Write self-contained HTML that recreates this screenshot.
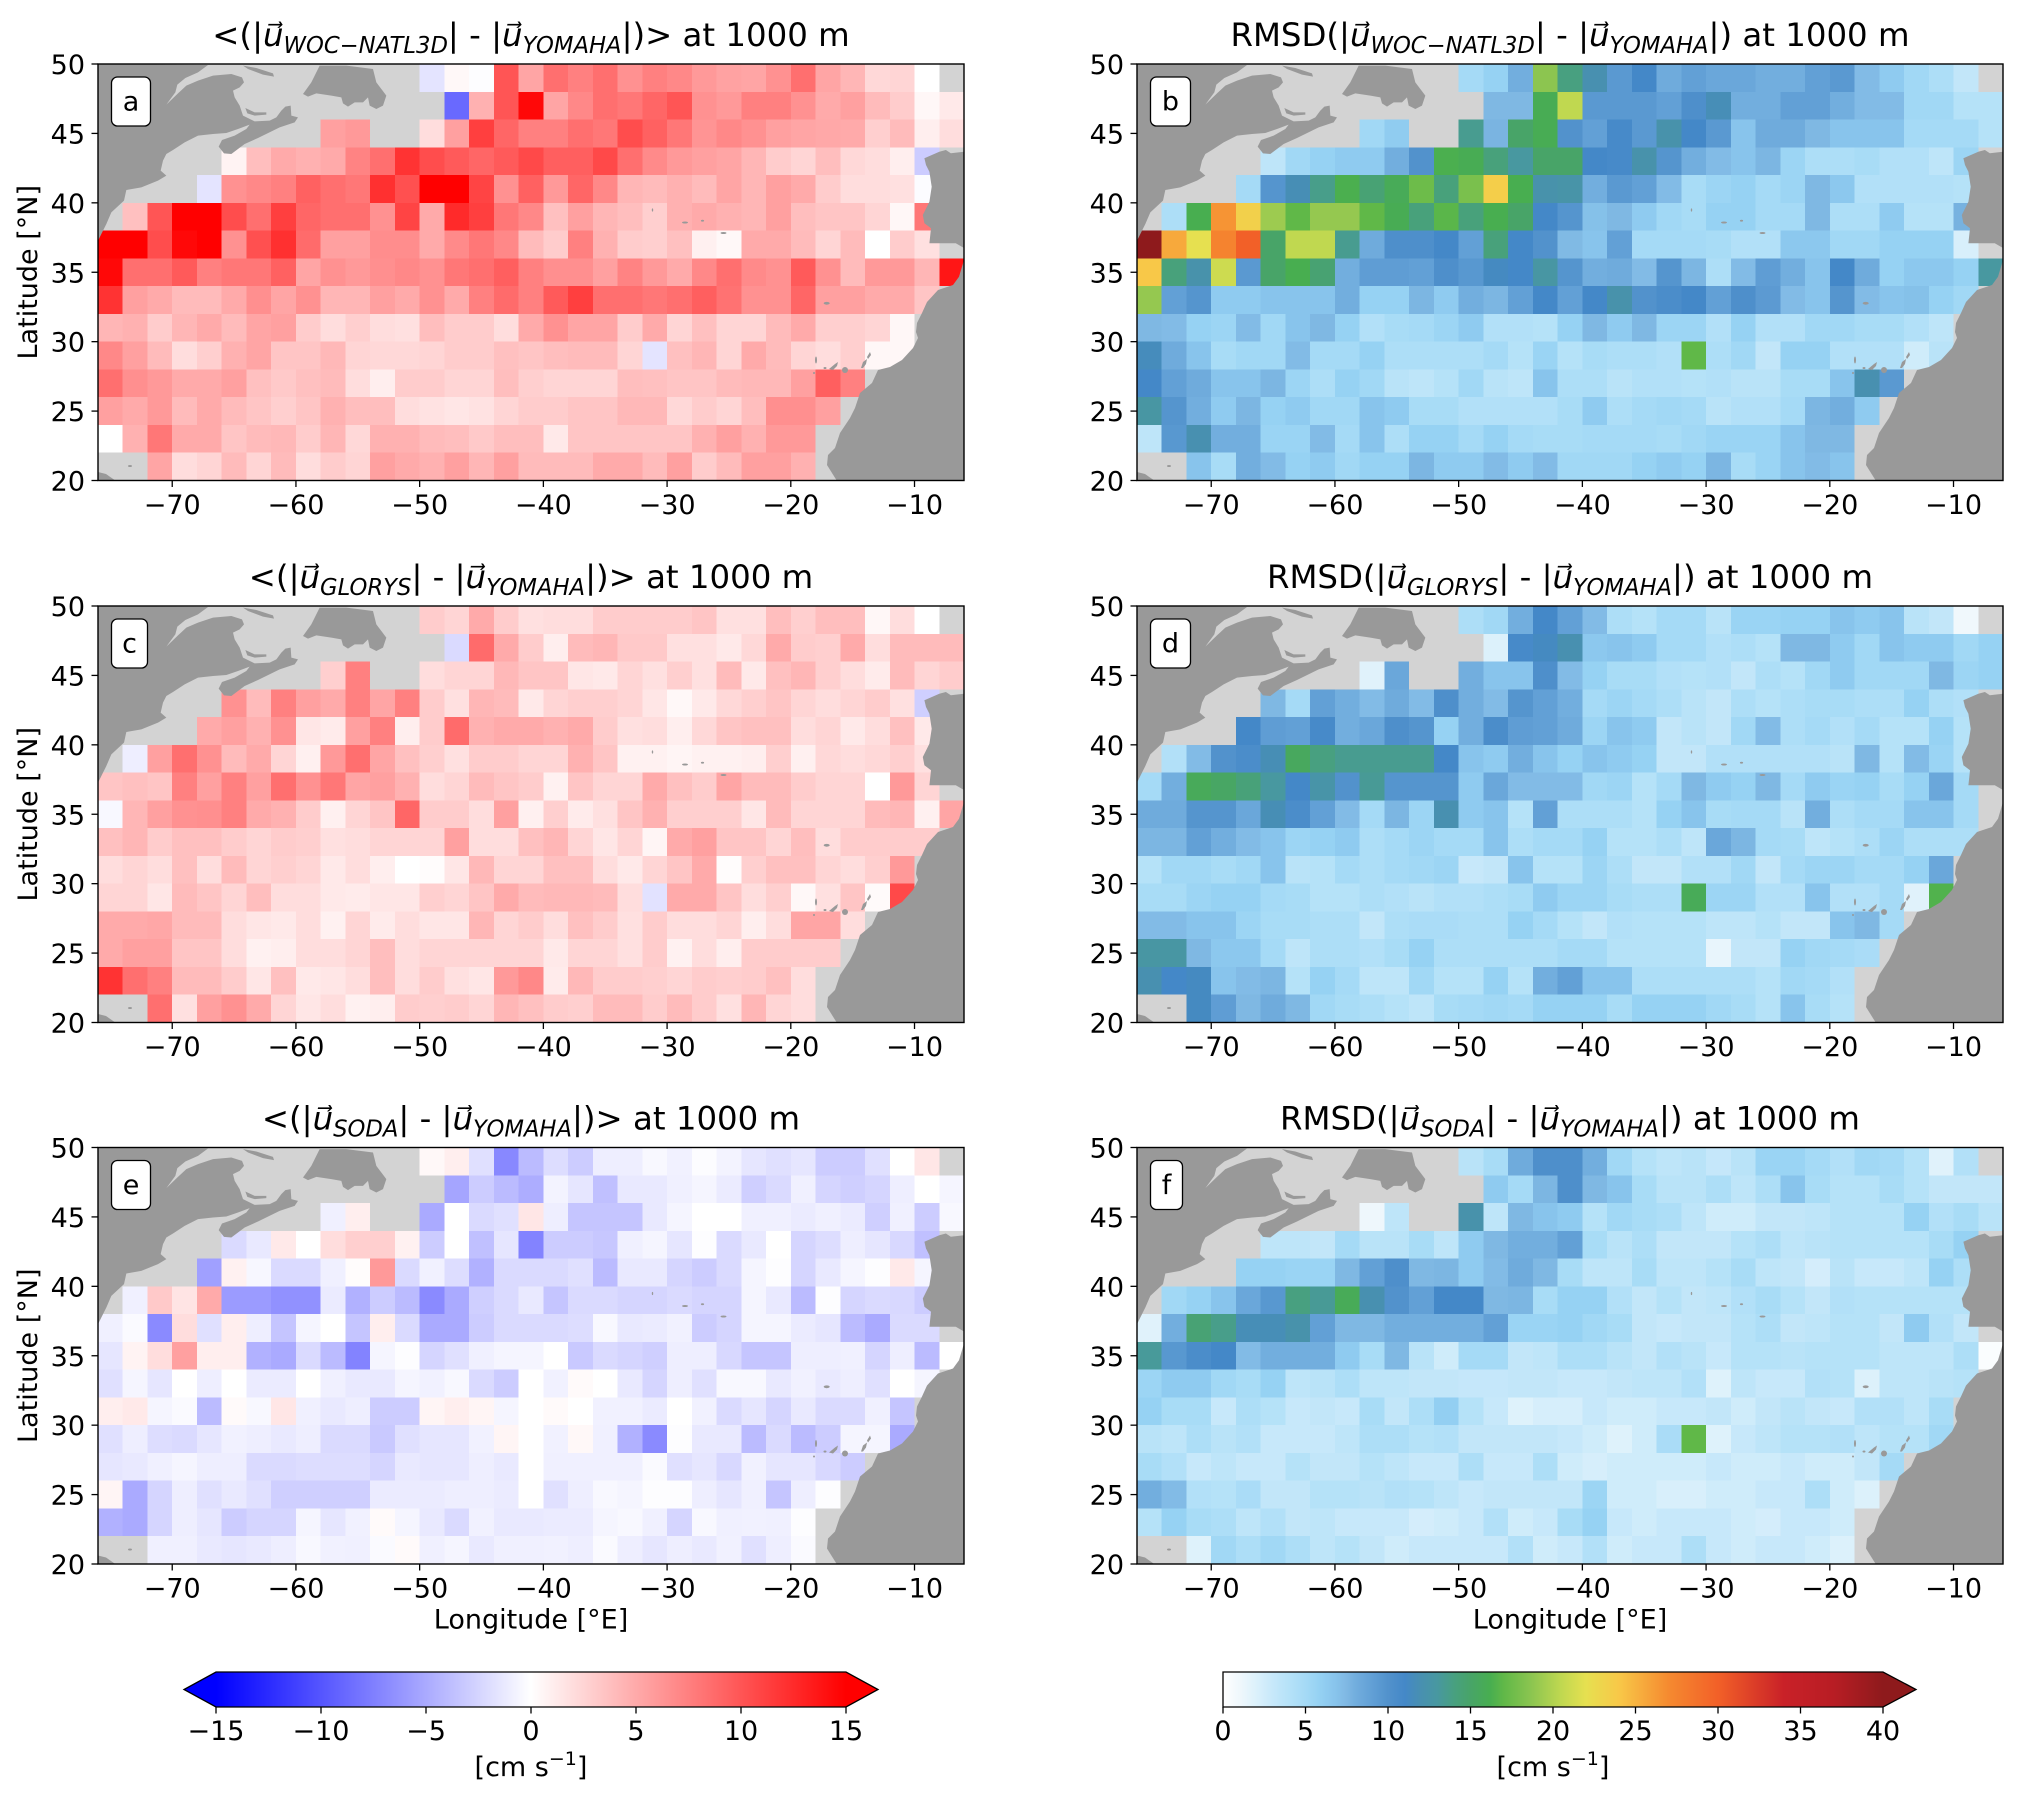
<!DOCTYPE html>
<html lang="en">
<head>
<meta charset="utf-8">
<title>Mean difference and RMSD of speed at 1000 m</title>
<style>
html,body{margin:0;padding:0;background:#fff;width:2021px;height:1799px;overflow:hidden}
svg{display:block}
text{font-family:"DejaVu Sans","Liberation Sans",sans-serif;fill:#000}
</style>
</head>
<body>
<svg id="figure" xmlns="http://www.w3.org/2000/svg" width="2021" height="1799" viewBox="0 0 2021 1799">
<defs>
<g id="land-shapes">
<g transform="scale(0.33333)" fill="#999">
<path d="M0,0L330,3L300,25L262,42L238,62L232,85L205,122L240,88L265,65L300,50L345,35L400,30L432,40L438,55L425,70L405,80L410,100L425,125L435,155L470,172L515,170L535,160L550,140L562,128L578,125L580,155L600,160L590,175L545,190L480,222L440,240L400,270L378,268L362,248L372,228L410,215L445,195L455,182L420,195L385,207L345,210L300,215L260,235L225,258L205,270L195,290L188,320L205,335L180,350L130,370L85,378L78,410L40,445L25,480L5,520L0,530Z"/>
<path d="M442,132L470,145L505,145L505,152L470,155L448,148Z"/>
<path d="M435,5L475,12L525,28L528,38L495,32L450,15Z"/>
<path d="M615,90L640,55L665,5L745,5L825,15L835,55L865,95L855,125L835,135L815,125L810,100L795,115L770,115L750,128L735,118L730,100L700,95L655,88L630,98Z"/>
</g>
<path fill="#999" d="M841.3,87.7L847.9,86L852.8,89.3L866,87.7L866,184L857.8,179.3L842.9,179.3L831.4,179.3L833,164.3L826.4,159.3L824.8,151L831.4,137.7L833.7,122.7L831.4,107.7L828,101L826.4,94.3Z"/>
<path fill="#999" d="M866,196L861,212.7L855,221L840,226L829,238L824,249L819,259L818,268L820,274L815,284L804,296L792,303L780,306L774,319L762,329L757,344L752,354L742,369L737,384L730,391L729,401L739,417L866,417Z"/>
<path fill="#999" d="M0,408L8,410L18,417L0,417Z"/>
<ellipse fill="#999" cx="32" cy="402" rx="2" ry="1"/>
<ellipse fill="#999" cx="554.5" cy="146" rx="0.7" ry="1.6"/>
<ellipse fill="#999" cx="587" cy="158.5" rx="3" ry="1"/>
<ellipse fill="#999" cx="604.5" cy="156.7" rx="1.6" ry="0.9"/>
<ellipse fill="#999" cx="625.5" cy="169" rx="3" ry="1"/>
<ellipse fill="#999" cx="728.7" cy="239.3" rx="3" ry="1.4"/>
<ellipse fill="#999" cx="718" cy="296" rx="1" ry="3.5"/>
<path fill="#999" d="M731,305L737,300L740,298L739,302L735,306Z"/>
<ellipse fill="#999" cx="747" cy="306" rx="3" ry="3"/>
<ellipse fill="#999" cx="727" cy="304" rx="1.5" ry="1"/>
<path fill="#999" d="M763,304L765,298L769,295L768,300L765,304Z"/>
<path fill="#999" d="M769,293L772,288L773,291L770,295Z"/>
<ellipse fill="#999" cx="716" cy="309" rx="1" ry="1"/>
</g>
</defs>
<rect width="2021" height="1799" fill="#fff"/>
</svg>
<script>
const _ = null;
const cellLons = [-76,-74,-72,-70,-68,-66,-64,-62,-60,-58,-56,-54,-52,-50,-48,-46,-44,-42,-40,-38,-36,-34,-32,-30,-28,-26,-24,-22,-20,-18,-16,-14,-12,-10,-8];
const cellLats = [48,46,44,42,40,38,36,34,32,30,28,26,24,22,20];
const xTickValues = [-70,-60,-50,-40,-30,-20,-10];
const xTickLabels = ['−70','−60','−50','−40','−30','−20','−10'];
const yTickValues = [20,25,30,35,40,45,50];
const yTickLabels = ['20','25','30','35','40','45','50'];
const diffBarTicks = [-15,-10,-5,0,5,10,15];
const diffBarLabels = ['−15','−10','−5','0','5','10','15'];
const rmsdBarTicks = [0,5,10,15,20,25,30,35,40];
const rmsdBarLabels = ['0','5','10','15','20','25','30','35','40'];
const rmsdStopValues = [0,1.1,2,3,4,5,5.8,6.8,7.5,8,9,10,11,12,13,14,15,16.2,17,18.7,20.5,22,24,27,30,34,37,40];
const rmsdStopColors = ['#ffffff','#eef7fc','#dcf1fb','#c7e8fa','#b5e2f8','#a5daf6','#96d2f3','#88c4ec','#7fb8e3','#72aede','#62a0d6','#5292cc','#4488c8','#4890b0','#4898a0','#48a080','#48a468','#48ae50','#60b848','#8cc550','#c0d850','#e6e050','#f8c848','#f58a30','#f26028','#c92128','#b81d24','#8e1a1c'];

const panelA = [
[_,_,_,_,_,_,_,_,_,_,_,_,_,-1.6,.4,-.1,10,5.3,8.5,7.5,8.5,6.5,7.5,7,6,5.5,5.3,6.5,8.5,5.3,4.3,2.3,2.5,0],
[_,_,_,_,_,_,_,_,_,_,_,_,_,_,-8.8,4.6,10,14.5,5.3,7,8.5,8,9,10,6.5,6,7.5,7.5,6.5,5,5.6,4,3,.5,1.3],
[_,_,_,_,_,_,_,_,_,5.6,6,_,_,2,5.6,11.3,9,7.5,7.5,8.5,8,10.5,9.3,8,6.3,7,6.5,5.6,5.3,5.1,5,2.8,4,1,2],
[_,_,_,_,_,.7,3.8,5,4.6,5,7.3,8.5,12,10.5,9.7,9,9.7,10.7,9.4,9.4,10.7,8.5,6.9,6,5.6,5.3,4.3,3,2.5,3.8,2.3,2,1,-3],
[_,_,_,_,-1.6,6.5,7,7.5,9.3,8.5,8,12.2,10.3,15,15,11,6.5,9.3,6,9,7,4.3,4,4.6,4,5.3,4.3,5.6,5,3,2,2,1.8,-.2],
[_,3.7,10,15,15,10.5,8.5,11.3,9,8.5,8.5,6.5,11,5,12.5,11.3,8,7,3.7,5.6,4.3,3.8,2.8,4.6,5,4.6,4.3,5.6,3.8,3.4,3.4,2.5,.5,8],
[15,15,10.5,14.5,15,6.5,10.3,12.2,8.7,5.6,5.6,6.7,6.7,5,6.9,8,7,4,3,7.5,4.6,3,2.8,3.7,.9,.4,5,5,4,2.5,4,0,3,1.8],
[14.5,8.5,8.5,9.7,7.5,8,8,9.3,5.3,6.5,6,6.6,7,6.5,8,8.5,9.4,7.5,6.6,6.6,5.6,7.3,6,5,7,8.5,6.9,6.5,9.7,6.5,4,6,6,4.3,13.7],
[12,5.6,5,4,4,5,6.6,5.3,6.5,4.3,4.3,5.6,5,6.5,5,7.5,8.7,7.5,9.7,11.3,8.5,8.5,8,8.5,9.4,8.3,6.5,6.5,9,5.6,5.6,5,5,3.4],
[4.3,4.6,3,4.3,5,4,5.3,5.6,3,2,2.8,2,1.8,3.8,3,3,2,5,6.5,5.3,5.3,3,5,2.5,3.7,2.5,2.5,4,5,2.8,2.8,2.5,.5],
[7,5.6,4,2,2.8,4.6,5.3,3.4,3.4,4.2,2.5,2.3,2.3,2.5,3,3,3.7,3.4,3.8,4,4,2.5,-1.6,3.7,4.3,2.5,5,4,2.5,2,2.8,.5,.5],
[8.5,6.6,6,5,5,5.6,3.7,3.2,3.7,4,2,1,3,3,2.5,2.5,3.8,2.8,2.5,2.5,2.5,3.8,3.7,3.4,3.4,4,4.2,4.2,5.6,9.4,7.5],
[5.6,5,6,4,5,4,3.4,2.8,3.4,4.6,3.8,3.8,2,1.7,1.5,1.7,2.5,3,3,3.4,3.4,4.2,4.2,2.3,3,2.5,3.8,6.6,6.6,5.6],
[0,4.6,8,5,5,3.4,4,4.2,3,4.3,2.3,4.6,4.6,4,3.8,3.2,3.8,3.8,1.3,3.4,3.4,3.4,3.4,3.4,4.6,5.6,4.6,6,6],
[_,_,5.3,2,2.5,4,2.5,4,2,3,2.5,5.6,5,4.6,5.6,4.3,5.6,4,4,4,5,5,4,5.6,3,4,5.6,5.6,4.6]
];
const panelB = [
[_,_,_,_,_,_,_,_,_,_,_,_,_,5,5.8,8,18.7,14,12,9.5,11,8.2,9,8.5,8.5,8,8,9,9.5,7.3,6.3,5.2,4.5,3.3],
[_,_,_,_,_,_,_,_,_,_,_,_,_,_,7.5,7.5,16,20.5,9.5,9.5,9.5,9,10.3,11.7,8,8,9,9,8,7.3,7.3,5.2,5.2,4,4],
[_,_,_,_,_,_,_,_,_,5.2,6.2,_,_,13.5,7.7,15,16,10,9,10.8,9.5,12.3,11,9.5,6.8,8.2,8.2,7.5,6.8,6.8,6.8,5,5,5,4],
[_,_,_,_,_,3.5,5.2,5.8,6.3,6.3,8,10,16.3,16,14.2,13,15,15,11,10.8,12.3,9.8,8,7.3,6.8,7.6,5.5,4.5,4.5,4.8,4.2,4.2,3.5,5.5],
[_,_,_,_,5,9.8,11.8,13.7,16.3,14.5,15.8,17.5,14.2,18,23.5,16.2,12.3,12.5,8,9.5,9,7.3,4.8,5.5,5.8,5,5.5,7.5,6.5,4.2,4.2,4.2,4.2,4],
[_,4.5,16.2,26.5,23.3,19.3,17,19,19,17,16,14.2,16.8,14.2,16.2,15,11,9.8,7,7.5,6.3,5.2,4.8,5.8,5.8,5,5,7.5,4.5,4.5,6.3,4,4,7.8],
[40,25.5,22,27.5,30,15,20.5,20.5,13.5,8.2,10.3,10.3,11,9,14.2,11,10,7.4,6.8,9,5,5,5,4.8,4.2,4.2,6.5,6.5,5.2,5.2,5.8,5.8,5.8,2.2],
[24,14.2,12.3,21,9.5,15,16.2,14.6,8,9.2,9.2,9,10.3,9.6,11.3,11,12.8,9.8,8,8.2,7.3,9.8,7.6,4.5,7.3,9.2,8,6.8,11,8.2,5.8,6.5,6.5,5.8,13],
[19,9,9.8,6.3,6.3,6.8,6.8,6.8,8,5.8,5.8,7.6,6.3,8,7.6,9,11,9,11,12.3,10,10.5,11,9,10.3,9.4,7.3,6.8,9.8,7.3,6.8,7,5.8,5.2],
[7.5,7.3,5.8,5.5,7.3,5.2,6.8,7.5,5.8,4.2,4.8,5,5.5,6.3,4.2,4.2,4,5.8,7.5,6.3,7.5,5.5,5.5,4.2,5.8,4.2,4.2,5.2,5.2,4.8,4.8,4.2,3.5],
[11.5,8.2,6.8,4.8,5.2,5.2,7.3,5,5,5.8,4.5,4.5,4.5,4.5,5,4,5.6,4,4.8,4.5,4.5,4.2,17,4.5,5.2,3.3,5.8,5.8,4.2,4.2,4.2,2.6,3.8],
[11,9,8.2,6.8,6.8,7.6,5.5,4.5,5.8,5.2,3.8,3.5,4,5.2,3.8,3.5,6.8,4.5,4.5,3.8,4.2,4.2,4,4.2,3.8,3.8,4.8,4.8,6.8,12,9.5],
[12.8,9.8,8,6.3,7.6,5.8,6.3,5.2,5.2,6.8,6.3,4.8,4.8,4.2,4.2,4.2,4.2,4.8,6.3,4.5,5,5.2,5,3.8,4.2,4.2,5,7.6,8,6.3],
[3.5,9.6,12,8,8,5.6,5.6,7.3,5,6.8,4.5,5.8,5.8,5,5.8,5,4.8,4.8,5,5,5,4.8,5.2,5.6,5.6,5.6,6.8,7.5,7.5],
[_,_,6.8,4.8,8,7.3,5.8,6.3,5.2,5.8,5.8,7.6,6.3,6.3,7.3,6.3,7.3,5.2,5.2,5.2,5.8,6.3,5.8,7.6,4.8,5.6,6.8,7.3,6.8]
];
const panelC = [
[_,_,_,_,_,_,_,_,_,_,_,_,_,3,2.5,5,3,1.8,2,2,3,3,3,3,3.4,1.8,1.8,3.8,2.8,3.8,3.8,.5,2,0],
[_,_,_,_,_,_,_,_,_,_,_,_,_,_,-2.2,8.7,5,3,1,4,4.3,3.2,3.2,1.8,1.8,1.3,2.3,5,3,2.8,5,2,4,4,4],
[_,_,_,_,_,_,_,_,_,2.8,7.5,_,_,2,2.5,2.5,4.2,3.4,3.4,1.5,1.3,2.5,1.8,2.8,1.8,4,1.3,3.7,4.3,2.8,2,1.2,4,2.5,3],
[_,_,_,_,_,6.5,4,7.5,5.6,5,7.5,5.3,7.5,3,1.8,4.3,4,1.3,2.5,2.8,2.8,2.5,1.5,.4,1.3,2.3,2.8,3.4,2.5,2,2.5,3,1.8,-2.8],
[_,_,_,_,5,5.6,4.6,6.5,1.5,1.2,5.6,7.5,1,3,8.7,4.6,5,5,4.6,5,3,1.8,2,1,2.3,3.4,3.7,3.7,2,2.5,1.3,2,3.7,1.3],
[_,-1,5.6,8.5,6.5,4,5,2.5,.9,6,8.5,5.3,3.7,2.8,1.8,3,3,2.5,2.5,4.6,3.4,.8,.8,.6,.8,.8,1,2.8,.9,2.3,2,2.3,2.8,1.8],
[3.4,3.7,3.4,7.5,5.6,7.5,5.6,8.5,6.5,8,5.3,5.6,4.6,2,2.5,4,3.4,3,.8,3.4,2.5,2.5,5,3.7,3,5.3,4,4,3,2.5,2.5,0,6,2.5],
[-.4,4.3,5.6,6.5,6.6,7.5,5,4.6,3,.9,2.5,3.4,9,3,3,2,5.6,.9,2.8,1.2,1.8,3.4,4.6,2.8,2.8,2.8,1.5,4,2.5,2.5,2.5,4,4.3,.9,5.3],
[3.7,4.3,3,3.7,3.7,3,2.5,3,2.8,1.8,2,2.5,2.5,2.5,5.6,2,2,3.7,4.3,2.5,1.5,2.5,.6,5,5.6,3.4,3.4,2.5,3.8,2,3,3,3,3],
[2,2.5,2,3.7,2,4,2.5,2.8,2.5,1.3,2,1,0,.2,1.5,4.2,2.5,2.5,3.7,3.7,2,1.3,2.5,3.4,5,.2,2.8,3.7,3.7,2.5,2,2.8,6],
[2.5,2.5,1.5,4,3.4,2.5,3.8,2,2,1.3,1.2,1.5,1.5,2.8,2.5,3.4,5,4,4.2,4.2,4,2,-1.7,5,5,3.4,2,2.8,.4,1.8,3.4,.3,10.7],
[5,5,5.2,4,4,2,1.5,1.3,2,.8,2.5,1.2,2,1.5,1.5,4.3,2.5,3,2,3.7,3,1.8,3,2,2,2.5,1,2,5.3,5.3,2],
[5,5.6,5.6,3.4,3.4,2,.8,1,2,2,2.5,3.8,2,2.5,2.5,2.5,2.5,2.5,1.3,2.5,2.5,1.8,3,.8,2,1,3,3,3,3],
[12,8.5,7.5,4,4,3,1.5,3.7,1.3,1.5,2,3.8,2,3,1.8,1.5,6,7,1.2,4.2,3,3,2.8,2.5,3,2.8,3,3.7,2],
[_,_,8.5,1.8,5.6,6.5,5,2.5,1.5,2,.8,1,3,2.8,3,2.5,4.3,3.7,3,2.8,4,4,3,4,3,1.8,4.3,2.5,2]
];
const panelD = [
[_,_,_,_,_,_,_,_,_,_,_,_,_,4.5,5.2,8,11,9,7.3,4.5,4,5,5,3.8,5.6,5.6,5.8,5.8,6.8,6.3,6.8,3.8,3.3,1],
[_,_,_,_,_,_,_,_,_,_,_,_,_,_,2,10.8,11.3,12,6.5,6.8,6.3,5,5,4.2,4.5,4,7.5,7.5,6.3,5.2,6.8,6.3,6.3,5.2,5.8],
[_,_,_,_,_,_,_,_,_,1.8,8.5,_,_,8,6.8,6.8,10.3,7.3,5.8,4.8,4.8,4.2,4,4.2,3.3,4.5,4,5.2,6.3,5.2,5.2,5.2,7.5,5.5,5.8],
[_,_,_,_,_,7.5,5,9,8,7.3,8.2,7.3,10.3,8,7.3,9.8,9,8,5,5.5,5,4.5,3.8,3.3,4.5,4,4.5,4.8,4.8,4.5,4.5,5.8,4.5,4.2],
[_,_,_,_,11,9.2,9,10.8,8,8.5,10.3,9.8,5.8,8,10.5,9.2,9,8.2,5.5,6.8,6.3,3.3,3.8,3.3,5.2,7.3,4.5,5,4.2,5,4,4,5.8,4],
[_,4.2,7.3,10,10.5,11.8,15.5,14,13.5,13.5,13.5,13.5,11,6.8,6.3,8,6.8,5.8,6.8,6.3,5.8,3.3,3.3,4.2,4.2,4.2,4.2,4.2,3.8,7.5,4,7.3,5.6,4],
[5,8,15.7,15.2,14.3,13,11,12.5,10,13.3,9.8,9.8,9.8,6.3,8.5,7.3,7.3,7.3,5.2,5.5,4,5,7.5,6.3,5.8,7.5,5,6.3,5.6,5.8,4.8,5.8,8.5,5],
[8.2,8.2,9.8,9.8,8.5,11.8,10.5,9,7.3,5,7.6,5.5,12,6.3,6.8,4,9,4.5,4.5,4.5,4,5.8,6.8,4.8,5,5,3.8,8,4.5,5,5,6.8,6.8,5],
[7.6,7.6,9,8,7.3,6.8,5.5,5.8,6.3,4.5,5,5.5,5,5,6.8,4.5,5,5,5.8,4,4,4.5,3.5,8.5,7.6,5,4.8,3.5,4,4.5,5.5,4.5,4.5,4.5],
[4,5.2,5.2,4.8,5.2,6.8,3.8,4,5,4.5,5,5.2,5.5,3,3.3,6.8,4,4,5.5,4.5,3.3,3.3,4.2,4.2,5.2,3.3,5,5.5,5.5,5,5,5.8,8.5],
[4.8,4.8,5.5,5.8,5.8,5,4.8,4,4,4.5,4.2,3.8,4.2,4.2,4.5,4.8,6.3,5.5,5.5,4.8,4.5,4.5,15.8,5.5,5.5,4.2,4.2,6.8,4.2,4.2,5,1.8,16.5],
[7.3,7.3,6.8,6.8,5.5,4.8,4.8,4.5,4.5,3.3,4.5,4.7,4.7,4.5,4.5,5.8,5,4,3.3,4.2,4,4,4,3.5,3.5,4,3.3,3.3,6.8,7.5,5],
[12.8,12.8,7.5,6.5,6.5,5,3.5,4.5,4.5,4.2,4.8,5.8,4.5,4.5,4.5,4.5,4.5,5,5,4,4,4,4,1.4,3.3,3.3,5.8,5.2,5,4.7],
[12,11,11.3,6.8,7.3,7.6,4,5.8,5,3.5,3.5,5.2,4,4,5.8,4,8,9,6.8,6.8,4.5,4.5,4.5,4.5,4.5,4,5.2,5,4.2],
[_,_,11.3,9.2,7.5,8.2,7.5,5.2,4.8,4.5,4,3.5,4.8,5,5.2,5,5.8,5.8,5.8,4.8,5.8,5.8,5.8,5.2,4.8,4,6.8,4.8,4]
];
const panelE = [
[_,_,_,_,_,_,_,_,_,_,_,_,_,.4,1,-1.8,-7,-4,-2,-3,-1,-1,-.4,-.8,-.2,-.7,-1.5,-1.8,-1.5,-3,-3,-1.8,0,1.5],
[_,_,_,_,_,_,_,_,_,_,_,_,_,_,-5.3,-3,-4,-4.8,-.7,-1.5,-3.7,-1.3,-1.3,-.9,-.6,-1.2,-2.8,-2.2,-.9,-2.5,-2.8,-2.5,-1,0,-.6],
[_,_,_,_,_,_,_,_,_,-.9,1,_,_,-5,0,-2.2,-1.8,1.5,-1,-3.4,-3.4,-3.4,-1.3,-.6,0,0,-.9,-.9,-1.2,-.9,-1.2,-2.8,-.9,-3,-.4],
[_,_,_,_,_,-2.2,-1.3,1.3,0,2,2.8,2.8,.8,-3,0,-3.7,-1.5,-7.3,-3,-3,-3.3,-.9,-.6,-1.5,-.1,-2.2,-1.3,0,-2.5,-2,-1,-1.5,-2.3,-3.7],
[_,_,_,_,-5.6,.8,-.5,-2.2,-2.2,-.9,.2,6,-2.2,-.8,-2,-4.6,-2.2,-2.2,-2.2,-1.8,-4,-1.3,-1.3,-2.5,-3,-2.2,-.6,-.1,-2.5,-1.3,-.6,-.1,1.3,-.6],
[_,-.9,3.2,1.6,5,-5.9,-5.9,-6.5,-6.5,-1.2,-4.6,-3,-4,-6.9,-5,-2.8,-2.2,-1.3,-3.4,-2.2,-2.2,-2.5,-2.5,-2.2,-2.5,-2.5,-.6,-1.3,-4,-.1,-2.5,-2.2,-2.3,-3],
[-.9,-.3,-6.9,2,-1.8,1,-1,-3.4,-.6,0,-3.4,1,-2.2,-5,-5,-3,-2.2,-2.2,-2.2,-2,-.4,-1.3,-1.2,-.8,-3,-2.5,-.6,-.6,-1.2,-1.5,-4,-5,-2.2,-2.2],
[-1.5,.7,2,5.6,1,1,-4.6,-5,-2.2,-4,-7.3,-.6,-.1,-2.5,-1.8,-.9,-.6,-.6,0,-3.2,-2.2,-2.5,-2.8,-1,-1,-2.3,-3.4,-3.4,-1,-1,-.9,-2.5,-1,-4,0],
[-1.8,-.6,-1.5,0,-1,0,-1.2,-1.2,0,-.9,-1.3,-1.3,-.6,-.8,-.4,-2.2,-3,0,-.8,.3,0,-1.3,-2.5,-1,-1.8,-.4,-.4,-1.3,-.8,-1.3,-1,-1.8,0,-.6],
[1,1.3,-.6,-.3,-4,.3,-.4,1.5,-.9,-1.3,-1,-3,-3,.6,1,.6,-.6,0,.3,0,-.8,-.8,-1.2,0,-.8,-2.2,-1.5,-2.5,-1.3,-2.2,-2.2,-.9,-3.4],
[-1.8,-1,-2,-2.2,-1.5,-.8,-1,-1.3,-1,-2.2,-2.2,-3.2,-1.8,-1.5,-1.5,-.8,.6,0,-.8,.4,-.9,-4.6,-6.9,-.1,-1.3,-1.3,-4,-2.2,-4,-3,-.6,-.6,-5],
[-1.5,-1.3,-.9,-.6,-1,-1,-2.2,-2.2,-2,-2,-2,-2.5,-1.3,-1.5,-1.5,-1,-1.3,0,-.9,-.9,-.9,-.9,-.3,-1.8,-1.5,-2.3,-.8,-1.5,-1.5,-2.3,-3],
[.6,-5,-2.5,-1,-1.8,-1.3,-1.8,-2.8,-2.8,-2.8,-2.8,-1.2,-1.2,-1.2,-1,-1,-1.2,0,-1.8,-1,-.4,-.6,-.1,-.1,-1,-1.5,-.9,-3.4,-1,-.1],
[-4.6,-5,-2.5,-1,-1.5,-3,-2.5,-2.5,-.6,-1.5,-.8,.3,-.6,-1.3,-2.2,-.8,-1.3,-1.3,-1.2,-1.2,-.6,-.4,-.9,-2.5,-.4,-.9,-.8,-.9,-.1],
[_,_,-.9,-.9,-1.3,-1.5,-1.3,-1,-.4,-.8,-.9,-.3,.3,-.9,-.6,-1.3,-.9,-.9,-.8,-1,-.3,-1,-1.5,-1,-1.3,-.8,-1.8,-1,-.3]
];
const panelF = [
[_,_,_,_,_,_,_,_,_,_,_,_,_,3.8,4.8,8.2,10.3,10.3,8,5.2,4,3.5,3.8,3.1,3.8,5.6,5.6,5,4.2,5.2,5,4,1.8,4.2],
[_,_,_,_,_,_,_,_,_,_,_,_,_,_,6.3,5,7.6,10.3,7.5,6.8,4.8,3.8,3.8,4.5,3.5,4.5,6.8,4.8,4,4,4.8,4,3.3,3.3,3.3],
[_,_,_,_,_,_,_,_,_,1.1,3.5,_,_,12.3,3.5,7.5,6.8,6.3,4,5.2,4.8,4.5,3.5,2.6,2.6,3.3,3.3,3.5,4,4,4,5.8,4.2,4.8,3.8],
[_,_,_,_,_,3.5,3.5,3.3,5,3.8,3.8,4.8,3.5,6.3,7.5,8,8,9,4.8,3.8,4.5,3.3,3.3,3.3,4,4.5,3.5,3.8,4,4,4,4,4.8,5.8],
[_,_,_,_,5.8,5.8,5.6,5.6,7.5,9,10.3,7.5,7.6,6.3,7.3,8.2,7.5,4.8,3.5,3.5,4.8,3.5,3.5,4,4.8,3.5,3.3,2.4,3.8,3,3,3.5,5.8,4.5],
[_,5.2,5.8,6.8,8.5,9.6,14,13.3,15.8,12,10,9,11,11,7.5,7.6,4.8,5.8,5.8,4.2,3.3,4,3.3,3.5,4.2,4.8,4,3.3,4.2,4,4,4,4,4],
[1.8,8,14.5,13.7,11.7,11.7,12.3,9,7.5,7.5,8,8,8,8,9,5.6,5.6,5.8,5.2,4.8,3.3,3,3.3,3.3,4,4.5,3.3,3.5,4,4,3.3,6.3,4.2,3.3],
[13.2,9.6,10.5,11,7.3,8,8,8,6.3,4.8,7.5,3.8,2.6,5,5,3.3,3.5,4.5,4.5,3.8,3.3,4.2,3.8,3,4,4,3.8,4,4,4,3.5,3.5,3.5,4.5,.3],
[5.5,6.3,6.3,5.2,4.8,5.8,3.5,3.8,4.5,3.5,3.5,3.3,3.3,3.1,3.1,3.3,3.3,3,3,3.3,3.5,3.5,4.2,1.9,3.5,3,3,4.2,4,2,3.5,3.5,3.8,4],
[5.8,4.8,4.8,3,4.5,4,3,3.3,3,4.8,3.3,4.5,6,4,3,1.9,2.3,2.3,3,2.6,2.6,3,3,3.3,2.6,3.3,3.8,3.3,3,4.2,4.2,3.5,4.8],
[3.8,3.5,4.5,3.8,4.2,3,3,3,3.5,4.5,4.5,4,4.2,3.3,3.3,3.3,3.3,3,2.6,1.9,2.6,4.7,17,1.9,3,3.5,4,4,4.2,3.5,4,4,5.2],
[4.8,4.2,3,3.5,3,3,4,3.3,3.3,4,3.5,3,3,4.5,3,3,4.5,2.6,2.3,2.6,2.6,2.6,2.6,3,2.6,2.6,3,2.6,2.6,3.3,5],
[8,7.3,4.2,4,4.7,3.3,3.3,4,4,3.8,4.2,4,3.5,3,3.3,3.3,3.3,3.3,5.5,2.6,2.6,2.2,2.2,2.6,2.6,3,3,4.5,2.6,2],
[4,5.8,4.8,4.5,3.5,4.2,3.3,3.5,3,3,3,2.4,2.6,3,4.2,2.6,3,4.8,5.8,3,2.6,3,3,3,2.6,2.4,3,3,2.6],
[_,_,1.9,5.2,4.5,5.2,4.5,3.5,4,3.3,2.6,3,3,3,3,4.2,2.6,3,4.2,2.6,3,3,4.5,3,2.6,3,3,2.6,2]
];

const NS = 'http://www.w3.org/2000/svg';
const svg = document.getElementById('figure');
const PW = 866, PH = 416.5;
const LON_MIN = -76, LON_MAX = -6, LAT_MIN = 20, LAT_MAX = 50, CELL_DEG = 2;
const FONT_TICK = 27, FONT_TITLE = 32.4, FONT_SUB = 22.7;

function make(parent, tag, attrs, txt) {
  const el = document.createElementNS(NS, tag);
  for (const k in attrs) el.setAttribute(k, attrs[k]);
  if (txt !== undefined) el.textContent = txt;
  parent.appendChild(el);
  return el;
}
function xScale(lon) { return (lon - LON_MIN) / (LON_MAX - LON_MIN) * PW; }
function yScale(lat) { return (LAT_MAX - lat) / (LAT_MAX - LAT_MIN) * PH; }
function hex2(n) { return Math.round(n).toString(16).padStart(2, '0'); }
function diffColor(v) {
  const t = Math.max(-1, Math.min(1, v / 15));
  if (t < 0) { const c = 255 * (1 + t); return '#' + hex2(c) + hex2(c) + 'ff'; }
  const c = 255 * (1 - t);
  return '#ff' + hex2(c) + hex2(c);
}
function rmsdColor(v) {
  const s = rmsdStopValues, c = rmsdStopColors;
  if (v <= s[0]) return c[0];
  for (let i = 1; i < s.length; i++) {
    if (v <= s[i]) {
      const t = (v - s[i - 1]) / (s[i] - s[i - 1]);
      let out = '#';
      for (let p = 1; p < 7; p += 2) {
        const a = parseInt(c[i - 1].substr(p, 2), 16);
        const b = parseInt(c[i].substr(p, 2), 16);
        out += hex2(a + (b - a) * t);
      }
      return out;
    }
  }
  return c[c.length - 1];
}

function drawPanel(cfg) {
  const g = make(svg, 'g', { transform: 'translate(' + cfg.x + ',' + cfg.y + ')' });
  
  

  const bg = make(g, 'rect', { x: 0, y: 0, width: PW, height: PH, fill: '#d3d3d3' });
  
  

  const cells = make(g, 'g', { 'shape-rendering': 'crispEdges' });
  
  
  cfg.data.forEach(function (row, r) {
    row.forEach(function (v, c) {
      if (v === null || v === undefined) return;
      const x0 = xScale(cellLons[c]), x1 = xScale(cellLons[c] + CELL_DEG);
      const y0 = yScale(cellLats[r] + CELL_DEG), y1 = yScale(cellLats[r]);
      const cell = make(cells, 'rect', { x: x0.toFixed(2), y: y0.toFixed(2), width: (x1 - x0).toFixed(2), height: (y1 - y0).toFixed(2), fill: cfg.color(v) });
      
      
    });
  });

  const land = make(g, 'use', { href: '#land-shapes' });
  
  

  const spine = make(g, 'rect', { x: 0, y: 0, width: PW, height: PH, fill: 'none', stroke: '#000', 'stroke-width': 1.4 });
  
  

  xTickValues.forEach(function (v, i) {
    const x = xScale(v);
    const t = make(g, 'line', { x1: x, x2: x, y1: PH, y2: PH + 6.5, stroke: '#000', 'stroke-width': 1.3 });
    
    
    const l = make(g, 'text', { x: x, y: PH + 33.5, 'font-size': FONT_TICK, 'text-anchor': 'middle' }, xTickLabels[i]);
    
    
  });
  yTickValues.forEach(function (v, i) {
    const y = yScale(v);
    const t = make(g, 'line', { x1: -6.5, x2: 0, y1: y, y2: y, stroke: '#000', 'stroke-width': 1.3 });
    
    
    const l = make(g, 'text', { x: -13, y: y + 10, 'font-size': FONT_TICK, 'text-anchor': 'end' }, yTickLabels[i]);
    
    
  });

  const badge = make(g, 'rect', { x: 13.5, y: 13, width: cfg.boxW, height: 49, rx: 6, ry: 6, fill: '#fff', stroke: '#000', 'stroke-width': 1.3 });
  
  
  const letter = make(g, 'text', { x: 13.5 + cfg.boxW / 2, y: 46.5, 'font-size': FONT_TICK, 'text-anchor': 'middle' }, cfg.letter);
  
  

  const title = make(g, 'text', { x: PW / 2, y: -18, 'font-size': FONT_TITLE, 'text-anchor': 'middle' });
  
  
  make(title, 'tspan', {}, cfg.prefix + '|');
  make(title, 'tspan', { 'font-style': 'italic' }, 'u\u20D7');
  make(title, 'tspan', { 'font-style': 'italic', 'font-size': FONT_SUB, dy: 7 }, cfg.model);
  make(title, 'tspan', { dy: -7 }, '| - |');
  make(title, 'tspan', { 'font-style': 'italic' }, 'u\u20D7');
  make(title, 'tspan', { 'font-style': 'italic', 'font-size': FONT_SUB, dy: 7 }, 'YOMAHA');
  make(title, 'tspan', { dy: -7 }, cfg.suffix + ' at 1000 m');

  if (cfg.leftCol) {
    const yl = make(g, 'text', { transform: 'translate(-61,' + (PH / 2) + ') rotate(-90)', 'font-size': FONT_TICK, 'text-anchor': 'middle' }, 'Latitude [°N]');
    
    
  }
  if (cfg.bottomRow) {
    const xl = make(g, 'text', { x: PW / 2, y: PH + 64.5, 'font-size': FONT_TICK, 'text-anchor': 'middle' }, 'Longitude [°E]');
    
    
  }
}

const COL_L = 98, COL_R = 1137, ROW_1 = 64, ROW_2 = 606, ROW_3 = 1147.5;
drawPanel({ x: COL_L, y: ROW_1, letter: 'a', boxW: 39, data: panelA, color: diffColor, prefix: '<(', suffix: '|)>', model: 'WOC\u2212NATL3D', leftCol: true });
drawPanel({ x: COL_R, y: ROW_1, letter: 'b', boxW: 40, data: panelB, color: rmsdColor, prefix: 'RMSD(', suffix: '|)', model: 'WOC\u2212NATL3D' });
drawPanel({ x: COL_L, y: ROW_2, letter: 'c', boxW: 36, data: panelC, color: diffColor, prefix: '<(', suffix: '|)>', model: 'GLORYS', leftCol: true });
drawPanel({ x: COL_R, y: ROW_2, letter: 'd', boxW: 40, data: panelD, color: rmsdColor, prefix: 'RMSD(', suffix: '|)', model: 'GLORYS' });
drawPanel({ x: COL_L, y: ROW_3, letter: 'e', boxW: 39, data: panelE, color: diffColor, prefix: '<(', suffix: '|)>', model: 'SODA', leftCol: true, bottomRow: true });
drawPanel({ x: COL_R, y: ROW_3, letter: 'f', boxW: 32, data: panelF, color: rmsdColor, prefix: 'RMSD(', suffix: '|)', model: 'SODA', bottomRow: true });

function drawColorbar(cfg) {
  const g = make(svg, 'g', {});
  
  
  const top = 1672, bottom = 1707, mid = 1689.5;
  const scale = function (v) { return cfg.x0 + (v - cfg.vmin) / (cfg.vmax - cfg.vmin) * (cfg.x1 - cfg.x0); };
  const ramp = make(g, 'g', { 'shape-rendering': 'crispEdges' });
  
  
  for (let px = cfg.x0; px < cfg.x1; px += 1) {
    const v = cfg.vmin + (px + 0.5 - cfg.x0) / (cfg.x1 - cfg.x0) * (cfg.vmax - cfg.vmin);
    const seg = make(ramp, 'rect', { x: px, y: top, width: 1.2, height: bottom - top, fill: cfg.color(v) });
    
    
  }
  let outline = '';
  if (cfg.tipL) {
    const low = make(g, 'polygon', { points: cfg.x0 + ',' + top + ' ' + cfg.tipL + ',' + mid + ' ' + cfg.x0 + ',' + bottom, fill: cfg.color(cfg.vmin) });
    
    
    outline = 'M' + cfg.x0 + ',' + top + 'L' + cfg.x1 + ',' + top + 'L' + cfg.tipR + ',' + mid + 'L' + cfg.x1 + ',' + bottom + 'L' + cfg.x0 + ',' + bottom + 'L' + cfg.tipL + ',' + mid + 'Z';
  } else {
    outline = 'M' + cfg.x0 + ',' + top + 'L' + cfg.x1 + ',' + top + 'L' + cfg.tipR + ',' + mid + 'L' + cfg.x1 + ',' + bottom + 'L' + cfg.x0 + ',' + bottom + 'Z';
  }
  const high = make(g, 'polygon', { points: cfg.x1 + ',' + top + ' ' + cfg.tipR + ',' + mid + ' ' + cfg.x1 + ',' + bottom, fill: cfg.color(cfg.vmax) });
  
  
  const frame = make(g, 'path', { d: outline, fill: 'none', stroke: '#000', 'stroke-width': 1.3 });
  
  
  cfg.ticks.forEach(function (v, i) {
    const x = scale(v);
    const t = make(g, 'line', { x1: x, x2: x, y1: bottom, y2: bottom + 6.5, stroke: '#000', 'stroke-width': 1.3 });
    
    
    const l = make(g, 'text', { x: x, y: 1740, 'font-size': FONT_TICK, 'text-anchor': 'middle' }, cfg.labels[i]);
    
    
  });
  const unit = make(g, 'text', { x: (cfg.x0 + cfg.x1) / 2, y: 1776, 'font-size': FONT_TICK, 'text-anchor': 'middle' });
  
  
  make(unit, 'tspan', {}, '[cm s');
  make(unit, 'tspan', { 'font-size': 19, dy: -11 }, '−1');
  make(unit, 'tspan', { dy: 11 }, ']');
}
drawColorbar({ name: 'difference-colorbar', x0: 216, x1: 846, tipL: 184, tipR: 878, vmin: -15, vmax: 15, color: diffColor, ticks: diffBarTicks, labels: diffBarLabels });
drawColorbar({ name: 'rmsd-colorbar', x0: 1223, x1: 1883, tipR: 1916, vmin: 0, vmax: 40, color: rmsdColor, ticks: rmsdBarTicks, labels: rmsdBarLabels });
</script>
</body>
</html>
